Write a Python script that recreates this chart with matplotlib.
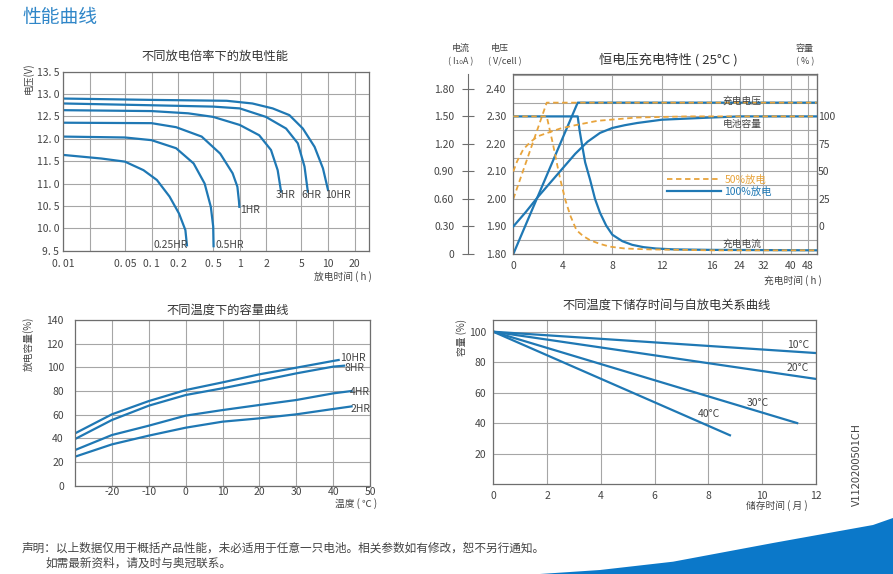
import numpy as np
import matplotlib.pyplot as plt
from matplotlib.patches import Polygon
from matplotlib.ticker import NullLocator

plt.rcParams['font.family'] = ['Noto Sans CJK SC', 'DejaVu Sans']
plt.rcParams['axes.unicode_minus'] = False

BLUE = '#1f78b4'
ORANGE = '#e8a43c'
GRID = '#a6a6a6'
FRAME = '#6e6e6e'
TXT = '#444444'

# ---------- 不同放电倍率下的放电性能 (h, V)
t_025 = [0.01, 0.027, 0.05, 0.081, 0.115, 0.16, 0.205, 0.242, 0.252]
v_025 = [11.64, 11.56, 11.49, 11.30, 11.08, 10.71, 10.33, 9.96, 9.62]
t_05 = [0.01, 0.05, 0.1, 0.19, 0.3, 0.4, 0.47, 0.5, 0.505]
v_05 = [12.05, 12.03, 11.97, 11.79, 11.45, 11.0, 10.48, 10.04, 9.6]
t_1 = [0.01, 0.1, 0.19, 0.37, 0.6, 0.83, 0.94, 0.98, 0.99]
v_1 = [12.36, 12.35, 12.26, 12.05, 11.67, 11.23, 10.93, 10.6, 10.48]
t_3 = [0.01, 0.1, 0.26, 0.5, 1.0, 1.66, 2.26, 2.69, 2.94]
v_3 = [12.64, 12.62, 12.57, 12.49, 12.31, 12.08, 11.75, 11.30, 10.82]
t_6 = [0.01, 0.1, 0.5, 1.0, 1.98, 3.35, 4.55, 5.42, 5.91]
v_6 = [12.79, 12.75, 12.72, 12.68, 12.49, 12.23, 11.90, 11.38, 10.82]
t_10 = [0.01, 0.1, 0.71, 1.39, 2.36, 3.65, 5.19, 7.05, 8.77, 10.0]
v_10 = [12.90, 12.87, 12.85, 12.79, 12.68, 12.53, 12.23, 11.82, 11.34, 10.86]
rate_labels = ['0.25HR', '0.5HR', '1HR', '3HR', '6HR', '10HR']
rate_ticks = [0.01, 0.02, 0.05, 0.1, 0.2, 0.5, 1, 2, 5, 10, 20]
rate_ticklabels = ['0. 01', '', '0. 05', '0. 1', '0. 2', '0. 5', '1', '2', '5', '10', '20']
volt_ticks = [9.5, 10.0, 10.5, 11.0, 11.5, 12.0, 12.5, 13.0, 13.5]
volt_ticklabels = ['9. 5', '10. 0', '10. 5', '11. 0', '11. 5', '12. 0', '12. 5', '13. 0', '13. 5']

# ---------- 恒电压充电特性 (h)
hour_marks = [0, 4, 8, 12, 16, 24, 32, 40, 48, 50]
hour_pos = [0, 4, 8, 12, 16.0, 18.3, 20.2, 22.4, 23.8, 24.5]
charge_ticks = [0, 4, 8, 12, 16, 24, 32, 40, 48]
# 充电电压 V/cell
v100_t = [0, 5.2, 50]
v100 = [1.80, 2.35, 2.35]
v50_t = [0, 2.7, 50]
v50 = [2.00, 2.35, 2.35]
# 充电电流 I10A
c100_t = [0, 5.2, 5.35, 5.5, 5.8, 6.2, 6.6, 7.0, 7.5, 8.0, 8.8, 9.6, 10.5, 11.5, 13, 16, 50]
c100 = [1.5, 1.5, 1.35, 1.23, 1.0, 0.81, 0.6, 0.45, 0.31, 0.21, 0.14, 0.10, 0.075, 0.06, 0.05, 0.045, 0.04]
c50_t = [0, 2.7, 2.95, 3.2, 3.5, 3.8, 4.2, 4.6, 5.1, 5.6, 6.2, 7.0, 7.8, 9, 11, 16, 50]
c50 = [1.5, 1.5, 1.35, 1.2, 1.0, 0.81, 0.59, 0.42, 0.26, 0.2, 0.15, 0.11, 0.08, 0.06, 0.05, 0.04, 0.04]
# 电池容量 %
p100_t = [0, 1, 2, 3, 4, 5, 6, 7, 8, 9, 10, 12, 16, 24, 32, 50]
p100 = [0, 13, 27, 40, 53, 66, 77, 85, 89.5, 92, 94, 97, 99, 100, 100, 100]
p50_t = [0, 0.3, 0.8, 1.4, 2, 3, 3.8, 5, 6.8, 10, 14, 50]
p50 = [50, 59, 70, 77, 82, 86, 89, 92, 96, 99, 100, 100]

# ---------- 不同温度下的容量曲线 (℃, %)
temp_10 = [-30, -20, -10, 0, 10, 20, 30, 40, 41.5]
cap_10 = [44.2, 60.3, 71.5, 80.8, 87.3, 94.1, 99.7, 105.4, 106.2]
temp_8 = [-30, -20, -10, 0, 10, 20, 30, 40, 43]
cap_8 = [39.4, 55.5, 67.6, 76.6, 82.3, 88.5, 94.9, 100.6, 101.4]
temp_4 = [-30, -20, -10, 0, 10, 20, 30, 40, 45]
cap_4 = [30.1, 42.8, 50.7, 59.2, 63.9, 68.2, 72.4, 78.0, 80.0]
temp_2 = [-30, -20, -10, 0, 10, 20, 30, 40, 45]
cap_2 = [24.5, 34.9, 42.3, 49.0, 54.1, 56.9, 60.3, 64.8, 67.0]

# ---------- 储存时间与自放电 (月, %)
m_10, s_10 = [0, 12], [100, 86]
m_20, s_20 = [0, 12], [100, 69]
m_30, s_30 = [0, 11.3], [100, 40]
m_40, s_40 = [0, 8.8], [100, 32]


def px(x, y):
    return x / 893, 1 - y / 574


def style_frame(ax):
    for s in ax.spines.values():
        s.set_color(FRAME)
        s.set_linewidth(0.9)
    ax.tick_params(length=0, labelsize=7.5, colors=TXT)
    ax.grid(True, color=GRID, lw=0.8)
    ax.set_axisbelow(True)


fig = plt.figure(figsize=(8.93, 5.74), dpi=100)

fig.text(*px(22, 17), '性能曲线', fontsize=13.5, color='#2f86c8', va='center')

# ===== 1. 放电性能
ax1 = fig.add_axes([63.3 / 893, 1 - 250.7 / 574, 306 / 893, 179 / 574])
style_frame(ax1)
ax1.set_xscale('log')
for t, v in [(t_025, v_025), (t_05, v_05), (t_1, v_1), (t_3, v_3), (t_6, v_6), (t_10, v_10)]:
    ax1.plot(t, v, color=BLUE, lw=1.6)
ax1.set_xlim(0.01, 29.4)
ax1.set_ylim(9.5, 13.5)
ax1.set_xticks(rate_ticks)
ax1.set_xticklabels(rate_ticklabels)
ax1.xaxis.set_minor_locator(NullLocator())
ax1.set_yticks(volt_ticks)
ax1.set_yticklabels(volt_ticklabels)
ax1.tick_params(axis='x', pad=6)
ax1.tick_params(axis='y', pad=3)
lab_pos = [(0.105, 9.52, 'bottom'), (0.53, 9.52, 'bottom'), (1.0, 10.41, 'center'),
           (2.57, 10.74, 'center'), (4.97, 10.74, 'center'), (9.17, 10.74, 'center')]
for (x, y, va), s in zip(lab_pos, rate_labels):
    ax1.text(x, y, s, fontsize=7.5, color=TXT, ha='left', va=va)
fig.text(*px(215, 56), '不同放电倍率下的放电性能', fontsize=8.8, color='#333333', ha='center', va='center')
fig.text(*px(28, 78), '电压(V)', fontsize=7, color=TXT, rotation=90, ha='center', va='center')
fig.text(*px(372, 277), '放电时间 ( h )', fontsize=7, color=TXT, ha='right', va='center')


# ===== 2. 恒电压充电特性
def fwd(h):
    return np.interp(h, hour_marks, hour_pos)


def inv(p):
    return np.interp(p, hour_pos, hour_marks)


ax2 = fig.add_axes([513.3 / 893, 1 - 254 / 574, 303.4 / 893, 179.7 / 574])
style_frame(ax2)
ax2.set_xscale('function', functions=(fwd, inv))
ax2.set_xlim(0, 50)
ax2.set_ylim(1.80, 2.453)
ax2.set_xticks(charge_ticks)
ax2.set_xticklabels([str(t) for t in charge_ticks])
ax2.xaxis.set_minor_locator(NullLocator())
ax2.set_yticks(np.arange(1.80, 2.451, 0.05))
ax2.set_yticklabels(['%.2f' % v if round(v * 100) % 10 == 0 else '' for v in np.arange(1.80, 2.451, 0.05)])
ax2.tick_params(axis='x', pad=5)
ax2.tick_params(axis='y', pad=5)
ax2.plot(v100_t, v100, color=BLUE, lw=1.6)
ax2.plot(v50_t, v50, color=ORANGE, lw=1.3, ls=(0, (3, 2)))

# current axis (left, offset)
ax2c = ax2.twinx()
ax2c.set_ylim(0, (2.453 - 1.80) * 3)
ax2c.yaxis.set_ticks_position('left')
ax2c.spines['left'].set_position(('axes', -0.149))
ax2c.spines['left'].set_visible(True)
ax2c.spines['left'].set_color(FRAME)
for s in ['right', 'top', 'bottom']:
    ax2c.spines[s].set_visible(False)
cur_ticks = [0, 0.3, 0.6, 0.9, 1.2, 1.5, 1.8]
ax2c.set_yticks(cur_ticks)
ax2c.set_yticklabels(['0', '0.30', '0.60', '0.90', '1.20', '1.50', '1.80'])
ax2c.tick_params(axis='y', direction='inout', length=8, color=FRAME, labelsize=7.5, labelcolor=TXT, pad=6)
ax2c.plot(c100_t, c100, color=BLUE, lw=1.6)
ax2c.plot(c50_t, c50, color=ORANGE, lw=1.3, ls=(0, (3, 2)))

# capacity axis (right)
ax2p = ax2.twinx()
ax2p.set_ylim((1.80 - 1.90) * 250, (2.453 - 1.90) * 250)
for s in ['left', 'top', 'bottom']:
    ax2p.spines[s].set_visible(False)
ax2p.spines['right'].set_color(FRAME)
ax2p.set_yticks([0, 25, 50, 75, 100])
ax2p.tick_params(axis='y', length=0, labelsize=7.5, labelcolor=TXT, pad=1)
l100, = ax2p.plot(p100_t, p100, color=BLUE, lw=1.6)
l50, = ax2p.plot(p50_t, p50, color=ORANGE, lw=1.3, ls=(0, (3, 2)))
leg = ax2p.legend([l50, l100], ['50%放电', '100%放电'], loc='upper left',
                  bbox_to_anchor=(0.49, 0.47), frameon=False, fontsize=7.5,
                  handlelength=5.2, handletextpad=0.3, labelspacing=0.15,
                  borderpad=0, labelcolor='linecolor')

ax2.text(0.754, 0.855, '充电电压', transform=ax2.transAxes, fontsize=7, color=TXT, ha='center', va='center')
ax2.text(0.754, 0.723, '电池容量', transform=ax2.transAxes, fontsize=7, color=TXT, ha='center', va='center')
ax2.text(0.754, 0.058, '充电电流', transform=ax2.transAxes, fontsize=7, color=TXT, ha='center', va='center')
fig.text(*px(668, 60), '恒电压充电特性 ( 25°C )', fontsize=9.5, color='#333333', ha='center', va='center')
fig.text(*px(461, 48), '电流', fontsize=6.5, color=TXT, ha='center', va='center')
fig.text(*px(461, 62), '( I₁₀A )', fontsize=6.5, color=TXT, ha='center', va='center')
fig.text(*px(500, 48), '电压', fontsize=6.5, color=TXT, ha='center', va='center')
fig.text(*px(505, 62), '( V/cell )', fontsize=6.5, color=TXT, ha='center', va='center')
fig.text(*px(805, 48), '容量', fontsize=6.5, color=TXT, ha='center', va='center')
fig.text(*px(805, 62), '( % )', fontsize=6.5, color=TXT, ha='center', va='center')
fig.text(*px(822, 281), '充电时间 ( h )', fontsize=7, color=TXT, ha='right', va='center')

# ===== 3. 不同温度下的容量曲线
ax3 = fig.add_axes([75 / 893, 1 - 485.7 / 574, 295 / 893, 165.7 / 574])
style_frame(ax3)
for t, c in [(temp_10, cap_10), (temp_8, cap_8), (temp_4, cap_4), (temp_2, cap_2)]:
    ax3.plot(t, c, color=BLUE, lw=1.6)
ax3.set_xlim(-30, 50)
ax3.set_ylim(0, 140)
ax3.set_xticks([-20, -10, 0, 10, 20, 30, 40, 50])
ax3.set_yticks(range(0, 141, 20))
ax3.tick_params(axis='x', pad=1)
ax3.tick_params(axis='y', pad=8)
for x, y, s in [(41.9, 107.9, '10HR'), (43.2, 99.4, '8HR'), (44.6, 79.2, '4HR'), (44.6, 64.8, '2HR')]:
    ax3.text(x, y, s, fontsize=7.5, color=TXT, ha='left', va='center')
fig.text(*px(228, 310), '不同温度下的容量曲线', fontsize=8.8, color='#333333', ha='center', va='center')
fig.text(*px(28, 344), '放电容量(%)', fontsize=7, color=TXT, rotation=90, ha='center', va='center')
fig.text(*px(377, 504), '温度 ( ℃ )', fontsize=7, color=TXT, ha='right', va='center')

# ===== 4. 储存时间与自放电
ax4 = fig.add_axes([493.3 / 893, 1 - 484 / 574, 322.7 / 893, 164 / 574])
style_frame(ax4)
for m, s in [(m_10, s_10), (m_20, s_20), (m_30, s_30), (m_40, s_40)]:
    ax4.plot(m, s, color=BLUE, lw=1.6)
ax4.set_xlim(0, 12)
ax4.set_ylim(0, 107.7)
ax4.set_xticks(range(0, 13, 2))
ax4.set_yticks([20, 40, 60, 80, 100])
ax4.tick_params(axis='x', pad=5)
ax4.tick_params(axis='y', pad=5)
for x, y, s in [(10.92, 91.1, '10°C'), (10.92, 75.9, '20°C'), (9.43, 53.3, '30°C'), (7.61, 46.1, '40°C')]:
    ax4.text(x, y, s, fontsize=7.5, color=TXT, ha='left', va='center')
fig.text(*px(667, 305), '不同温度下储存时间与自放电关系曲线', fontsize=8.8, color='#333333', ha='center', va='center')
fig.text(*px(462, 337), '容量 (%)', fontsize=7, color=TXT, rotation=90, ha='center', va='center')
fig.text(*px(808, 506), '储存时间 ( 月 )', fontsize=7, color=TXT, ha='right', va='center')

fig.text(*px(857, 465), 'V1120200501CH', fontsize=8, color=TXT, rotation=90, ha='center', va='center')

# footer
fig.text(*px(22, 548), '声明：以上数据仅用于概括产品性能，未必适用于任意一只电池。相关参数如有修改，恕不另行通知。',
         fontsize=8.4, color=TXT, va='center')
fig.text(*px(45, 563), '如需最新资料，请及时与奥冠联系。', fontsize=8.4, color=TXT, va='center')

# blue swoosh
sw = [(540, 574), (600, 570), (673, 561.7), (773, 543), (873, 525), (893, 518), (893, 574)]
fig.patches.append(Polygon([px(x, y) for x, y in sw], closed=True, transform=fig.transFigure,
                           facecolor='#0b78c9', edgecolor='none', figure=fig))

fig.savefig('out.png', dpi=100)
